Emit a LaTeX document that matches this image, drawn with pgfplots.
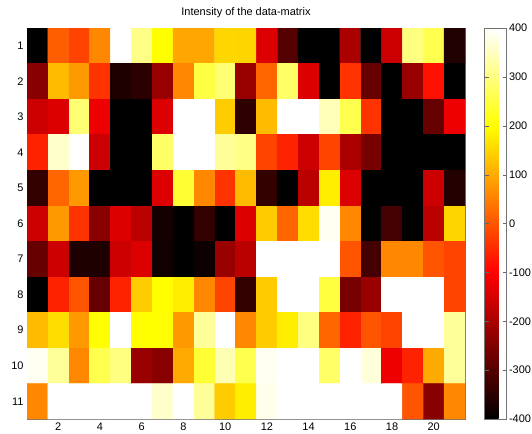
\documentclass[border=0pt]{standalone}
\usepackage{fontspec}
\setmainfont{Liberation Sans}
\usepackage{pgfplots}
\pgfplotsset{compat=1.18}
\begin{document}
\begin{tikzpicture}
\useasboundingbox (-27bp,-15bp) rectangle (505bp,419bp);
\begin{axis}[
  at={(0,0)}, anchor=south west,
  scale only axis, width=438bp, height=391bp,
  xmin=0.5, xmax=21.5, ymin=0.5, ymax=11.5, y dir=reverse,
  xtick={2,4,...,20}, ytick={1,...,11},
  tick align=inside, major tick length=4bp,
  axis line style={black!55}, tick style={black!60},
  title={Intensity of the data-matrix},
  title style={font=\fontsize{11}{13}\selectfont, yshift=1bp},
  ticklabel style={font=\fontsize{11}{13}\selectfont},
  /pgf/number format/assume math mode=true,
  colormap={hotm}{rgb(0bp)=(0,0,0) rgb(3bp)=(1,0,0) rgb(6bp)=(1,1,0) rgb(8bp)=(1,1,1)},
  point meta min=-400, point meta max=400,
  colorbar,
  colorbar style={at={(parent axis.north east)}, anchor=north west, xshift=11bp,
    width=22bp, ytick={-400,-300,...,400}, tick align=inside, major tick length=4bp,
    axis line style={black!55}, tick style={black!60},
    yticklabel style={font=\fontsize{11}{13}\selectfont, xshift=-1bp},
    /pgf/number format/assume math mode=true},
]
\addplot[matrix plot*, mesh/cols=21, mesh/rows=11, point meta=explicit] coordinates {
(1,1)[-400] (2,1)[10] (3,1)[-20] (4,1)[60] (5,1)[400] (6,1)[306] (7,1)[200] (8,1)[95] (9,1)[95] (10,1)[152] (11,1)[150] (12,1)[-140] (13,1)[-300] (14,1)[-400] (15,1)[-400] (16,1)[-200] (17,1)[-400] (18,1)[-160] (19,1)[300] (20,1)[260] (21,1)[-362]
(1,2)[-240] (2,2)[120] (3,2)[80] (4,2)[-40] (5,2)[-365] (6,2)[-350] (7,2)[-220] (8,2)[60] (9,2)[253] (10,2)[290] (11,2)[-220] (12,2)[20] (13,2)[280] (14,2)[-140] (15,2)[-400] (16,2)[-40] (17,2)[-280] (18,2)[-400] (19,2)[-220] (20,2)[-80] (21,2)[-400]
(1,3)[-160] (2,3)[-140] (3,3)[290] (4,3)[-120] (5,3)[-400] (6,3)[-400] (7,3)[-140] (8,3)[400] (9,3)[400] (10,3)[140] (11,3)[-345] (12,3)[120] (13,3)[400] (14,3)[400] (15,3)[346] (16,3)[260] (17,3)[-40] (18,3)[-400] (19,3)[-400] (20,3)[-280] (21,3)[-120]
(1,4)[-60] (2,4)[360] (3,4)[400] (4,4)[-160] (5,4)[-400] (6,4)[-400] (7,4)[280] (8,4)[400] (9,4)[400] (10,4)[320] (11,4)[305] (12,4)[-20] (13,4)[-60] (14,4)[-160] (15,4)[-20] (16,4)[-200] (17,4)[-260] (18,4)[-400] (19,4)[-400] (20,4)[-400] (21,4)[-400]
(1,5)[-340] (2,5)[20] (3,5)[80] (4,5)[-400] (5,5)[-400] (6,5)[-400] (7,5)[-140] (8,5)[240] (9,5)[60] (10,5)[-40] (11,5)[120] (12,5)[-340] (13,5)[-400] (14,5)[-180] (15,5)[180] (16,5)[-140] (17,5)[-400] (18,5)[-400] (19,5)[-400] (20,5)[-160] (21,5)[-360]
(1,6)[-160] (2,6)[80] (3,6)[-40] (4,6)[-240] (5,6)[-140] (6,6)[-180] (7,6)[-375] (8,6)[-400] (9,6)[-340] (10,6)[-400] (11,6)[-140] (12,6)[140] (13,6)[20] (14,6)[160] (15,6)[390] (16,6)[60] (17,6)[-400] (18,6)[-320] (19,6)[-400] (20,6)[-180] (21,6)[150]
(1,7)[-280] (2,7)[-160] (3,7)[-365] (4,7)[-365] (5,7)[-160] (6,7)[-140] (7,7)[-380] (8,7)[-400] (9,7)[-385] (10,7)[-220] (11,7)[-180] (12,7)[400] (13,7)[400] (14,7)[400] (15,7)[400] (16,7)[0] (17,7)[-320] (18,7)[60] (19,7)[60] (20,7)[0] (21,7)[-20]
(1,8)[-400] (2,8)[-60] (3,8)[0] (4,8)[-280] (5,8)[-60] (6,8)[140] (7,8)[200] (8,8)[180] (9,8)[60] (10,8)[-20] (11,8)[-340] (12,8)[140] (13,8)[400] (14,8)[400] (15,8)[250] (16,8)[-260] (17,8)[-220] (18,8)[400] (19,8)[400] (20,8)[400] (21,8)[-20]
(1,9)[120] (2,9)[160] (3,9)[80] (4,9)[200] (5,9)[400] (6,9)[200] (7,9)[200] (8,9)[80] (9,9)[320] (10,9)[400] (11,9)[60] (12,9)[140] (13,9)[180] (14,9)[300] (15,9)[20] (16,9)[-60] (17,9)[0] (18,9)[-20] (19,9)[400] (20,9)[400] (21,9)[320]
(1,10)[390] (2,10)[320] (3,10)[60] (4,10)[260] (5,10)[300] (6,10)[-220] (7,10)[-240] (8,10)[100] (9,10)[240] (10,10)[340] (11,10)[260] (12,10)[390] (13,10)[400] (14,10)[400] (15,10)[280] (16,10)[400] (17,10)[370] (18,10)[-120] (19,10)[-60] (20,10)[100] (21,10)[320]
(1,11)[60] (2,11)[400] (3,11)[400] (4,11)[400] (5,11)[400] (6,11)[400] (7,11)[360] (8,11)[400] (9,11)[320] (10,11)[140] (11,11)[180] (12,11)[385] (13,11)[400] (14,11)[400] (15,11)[400] (16,11)[400] (17,11)[400] (18,11)[400] (19,11)[0] (20,11)[-240] (21,11)[60]
};
\end{axis}
\end{tikzpicture}
\end{document}
